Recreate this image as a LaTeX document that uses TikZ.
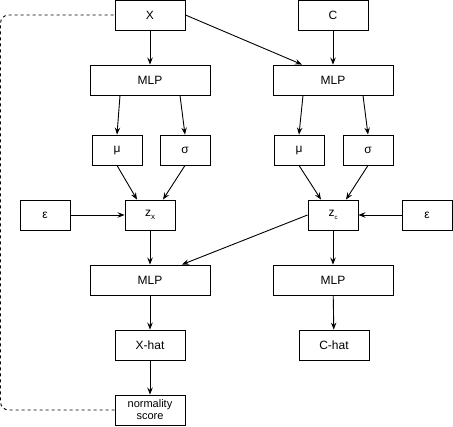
\documentclass[tikz,border=0pt]{standalone}
\usepackage{fontspec}
\setmainfont{Liberation Sans}
\usetikzlibrary{arrows.meta}
\tikzset{
  box/.style={draw=black, line width=0.9pt, fill=white, inner sep=0pt, minimum height=30pt, font=\fontsize{12}{14}\selectfont, align=center},
  wide/.style={box, minimum width=120pt},
  small/.style={box, minimum width=50pt},
  mid/.style={box, minimum width=70pt},
  arr/.style={line width=0.9pt, -{Stealth[length=7pt,width=5.5pt,inset=2.5pt]}},
  loopline/.style={line width=0.9pt, dash pattern=on 3pt off 3pt, rounded corners=8pt}
}
\begin{document}
\begin{tikzpicture}[x=1pt,y=-1pt]
\useasboundingbox (0,0) rectangle (453,427);
% top
\node[mid] (X) at (150,15) {X};
\node[mid] (C) at (333,15) {C};
\node[wide] (mlpx) at (150,80) {MLP};
\node[wide] (mlpc) at (333,80) {MLP};
\node[small] (mux) at (117,150) {μ};
\node[small] (sigx) at (185,150) {σ};
\node[small] (muc) at (299,150) {μ};
\node[small] (sigc) at (368,150) {σ};
\node[small] (epsx) at (45,215) {ε};
\node[small] (zx) at (150,215) {z\raisebox{-3pt}{\fontsize{8}{8}\selectfont x}};
\node[small] (zc) at (333,215) {z\raisebox{-2.5pt}{\fontsize{6}{6}\selectfont c}};
\node[small] (epsc) at (427,215) {ε};
\node[wide] (decx) at (150,280) {MLP};
\node[wide] (decc) at (333,280) {MLP};
\node[mid] (xhat) at (150,345) {X-hat};
\node[mid] (chat) at (334,345) {C-hat};
\node[mid, font=\fontsize{11}{12}\selectfont] (ns) at (150,410) {normality\\score};
% arrows
\draw[arr] (X) -- (mlpx);
\draw[arr] (X.east) -- ([xshift=-31pt]mlpc.north);
\draw[arr] (C) -- (mlpc);
\draw[arr] ([xshift=-30pt]mlpx.south) -- (mux.north);
\draw[arr] ([xshift=30pt]mlpx.south) -- (sigx.north);
\draw[arr] ([xshift=-30pt]mlpc.south) -- (muc.north);
\draw[arr] ([xshift=30pt]mlpc.south) -- (sigc.north);
\draw[arr] (mux.south) -- ([xshift=-13pt]zx.north);
\draw[arr] (sigx.south) -- ([xshift=13pt]zx.north);
\draw[arr] (muc.south) -- ([xshift=-12pt]zc.north);
\draw[arr] (sigc.south) -- ([xshift=13pt]zc.north);
\draw[arr] (epsx) -- (zx);
\draw[arr] (epsc) -- (zc);
\draw[arr] (zx) -- (decx);
\draw[arr] (zc.west) -- ([xshift=32pt]decx.north);
\draw[arr] (zc) -- (decc);
\draw[arr] (decx) -- (xhat);
\draw[arr] (decc) -- (chat);
\draw[arr] (xhat) -- (ns);
\draw[loopline] (ns.west) -| ([xshift=-114pt]X.west) -- (X.west);
\end{tikzpicture}
\end{document}
